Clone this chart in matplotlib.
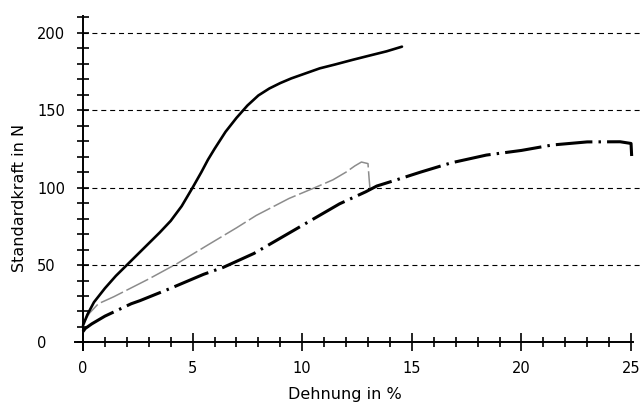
import matplotlib
matplotlib.use("Agg")
import matplotlib.pyplot as plt
from matplotlib.ticker import MultipleLocator

# Tensile test curves: strain (%) vs. standard force (N)
strain_a = [0.0, 0.2, 0.5, 1.0, 1.5, 2.0, 2.5, 3.0, 3.5, 4.0, 4.5, 5.0, 5.4,
            5.7, 6.0, 6.5, 7.0, 7.5, 8.0, 8.5, 9.0, 9.5, 10.0, 10.8, 11.5,
            12.3, 13.0, 13.85, 14.55]
force_a = [11, 18, 26, 35, 43, 50, 57, 64, 71, 78.5, 88, 100, 110,
           118, 125, 136, 145, 153, 159.5, 164, 167.5, 170.5, 173, 177, 179.5,
           182.5, 185, 188, 191]

strain_b = [0.0, 0.3, 0.7, 1.4, 3.0, 4.3, 5.7, 7.0, 7.9, 9.4, 10.5, 11.4, 12.0,
            12.4, 12.7, 13.0, 13.05, 13.1]
force_b = [12, 19, 25, 29.5, 41, 51, 63, 74, 82, 93, 99.5, 105, 110,
           114, 116.5, 115.5, 106, 98]

strain_c = [0.0, 0.1, 0.4, 1.0, 2.2, 2.6, 4.0, 5.5, 6.4, 7.8, 9.75, 11.7, 12.9,
            13.4, 14.3, 15.4, 16.8, 18.4, 20.0, 21.4, 23.0, 24.5, 25.0, 25.03]
force_c = [7, 9, 12, 17, 25, 27, 35, 44, 48.5, 57.5, 73.5, 89.5, 97.3,
           101, 105, 110, 116, 121, 124, 127.5, 129.5, 129.6, 128.5, 120]

x_major = [0, 5, 10, 15, 20, 25]
y_major = [0, 50, 100, 150, 200]
grid_levels = [50, 100, 150, 200]

fig = plt.figure(figsize=(6.4, 4.05), dpi=100)
ax = fig.add_axes([0.116, 0.1353, 0.8837, 0.8336])
ax.set_xlim(-0.4, 25.4)
ax.set_ylim(-5, 213)

for lvl in grid_levels:
    ax.plot([0, 25.4], [lvl, lvl], color="black", lw=0.8,
            linestyle=(0, (4.5, 3.5)), zorder=1, clip_on=False)

ax.plot(strain_a, force_a, color="black", lw=1.9, solid_joinstyle="round",
        solid_capstyle="round", zorder=3)
ax.plot(strain_b, force_b, color="#8c8c8c", lw=1.1,
        linestyle=(0, (16, 2.5)), zorder=2)
ax.plot(strain_c, force_c, color="black", lw=2.2,
        linestyle=(0, (12, 2, 0.8, 2)), zorder=3)

for s in ("top", "right"):
    ax.spines[s].set_visible(False)
ax.spines["left"].set_position(("data", 0))
ax.spines["bottom"].set_position(("data", 0))
ax.spines["left"].set_bounds(-5, 211)
ax.spines["bottom"].set_bounds(-0.35, 25.1)
for s in ("left", "bottom"):
    ax.spines[s].set_linewidth(1.4)

ax.set_xticks(x_major)
ax.set_yticks(y_major)
ax.xaxis.set_minor_locator(MultipleLocator(1))
ax.yaxis.set_minor_locator(MultipleLocator(10))

ax.tick_params(axis="x", which="major", direction="inout", length=13, width=1.2,
               pad=6.8, labelsize=10.5)
ax.tick_params(axis="x", which="minor", direction="inout", length=7.5, width=1.2)
ax.tick_params(axis="y", which="major", direction="inout", length=9, width=1.2,
               pad=28.6, labelsize=10.5)
ax.tick_params(axis="y", which="minor", direction="inout", length=9, width=1.2)
for lab in ax.get_yticklabels():
    lab.set_horizontalalignment("left")

fig.text(20 / 640, 1 - 198 / 405, "Standardkraft in N", rotation=90,
         ha="center", va="center", fontsize=11.5)
fig.text(345 / 640, 1 - 394 / 405, "Dehnung in %", ha="center", va="center",
         fontsize=11.5)

fig.savefig("out.png", dpi=100)
